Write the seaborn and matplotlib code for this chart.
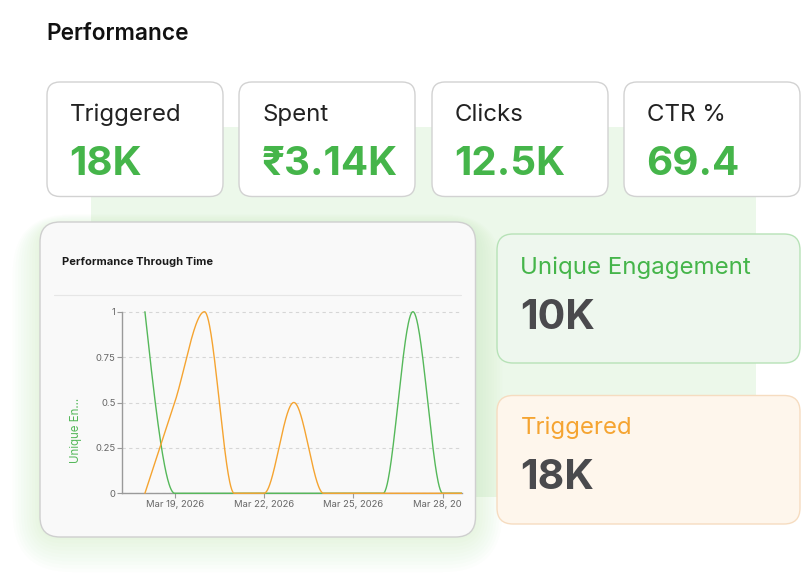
import numpy as np
import pandas as pd
import matplotlib
matplotlib.use('Agg')
import matplotlib.pyplot as plt
import matplotlib.dates as mdates
from matplotlib.patches import FancyBboxPatch, Rectangle
from matplotlib.ticker import FixedLocator
from matplotlib.transforms import Bbox, TransformedBbox
import seaborn as sns

# Chart data (daily values)
dates = pd.date_range('2026-03-18', '2026-03-29', freq='D')
unique_engagement = [1, 0, 0, 0, 0, 0, 0, 0, 0, 1, 0, 0]
triggered = [0, 0.5, 1, 0, 0, 0.5, 0, 0, 0, 0, 0, 0]
tick_dates = pd.to_datetime(['2026-03-19', '2026-03-22', '2026-03-25', '2026-03-28'])
y_ticks = [0, 0.25, 0.5, 0.75, 1]
y_tick_labels = ['0', '0.25', '0.5', '0.75', '1']

# KPI cards
kpi_labels = ['Triggered', 'Spent', 'Clicks', 'CTR %']
kpi_values = ['18K', '₹3.14K', '12.5K', '69.4']
side_labels = ['Unique Engagement', 'Triggered']
side_values = ['10K', '18K']

GREEN = '#45b54a'
LINE_GREEN = '#55b85a'
ORANGE = '#f5a431'
DARK = '#4a4a4d'

sns.set_style('white')
plt.rcParams['font.family'] = ['Inter', 'DejaVu Sans']


def monotone_curve(x, y, n=60):
    """Monotone cubic (d3 curveMonotoneX style) evaluated along each segment."""
    x = np.asarray(x, float)
    y = np.asarray(y, float)
    h = np.diff(x)
    s = np.diff(y) / h
    t = np.zeros_like(y)
    for i in range(1, len(x) - 1):
        p = (s[i - 1] * h[i] + s[i] * h[i - 1]) / (h[i - 1] + h[i])
        t[i] = (np.sign(s[i - 1]) + np.sign(s[i])) * min(abs(s[i - 1]), abs(s[i]), 0.5 * abs(p))
    t[0] = (3 * s[0] - t[1]) / 2
    t[-1] = (3 * s[-1] - t[-2]) / 2
    xs, ys = [], []
    u = np.linspace(0, 1, n)
    for i in range(len(x) - 1):
        dx = h[i] / 3
        p0, p3 = y[i], y[i + 1]
        p1 = y[i] + dx * t[i]
        p2 = y[i + 1] - dx * t[i + 1]
        yy = (1 - u) ** 3 * p0 + 3 * (1 - u) ** 2 * u * p1 + 3 * (1 - u) * u ** 2 * p2 + u ** 3 * p3
        xs.append(x[i] + u * h[i])
        ys.append(yy)
    return np.concatenate(xs), np.concatenate(ys)


def card(ax, x0, y0, x1, y1, face, edge, r=13, lw=1.0, z=2):
    ax.add_patch(FancyBboxPatch((x0, y0), x1 - x0, y1 - y0,
                                boxstyle=f'round,pad=0,rounding_size={r}',
                                facecolor=face, edgecolor=edge, linewidth=lw, zorder=z))


fig = plt.figure(figsize=(8.01, 5.88), dpi=100)
fig.patch.set_facecolor('white')

# Background canvas in pixel coordinates
bg = fig.add_axes([0, 0, 1, 1], zorder=0)
bg.set_xlim(0, 801)
bg.set_ylim(588, 0)
bg.axis('off')

bg.text(46.5, 40, 'Performance', fontsize=16.3, fontweight='semibold', color='#111111', va='baseline')

# light green panel behind the cards
bg.add_patch(Rectangle((91, 127), 665, 370, facecolor='#ecf8ea', edgecolor='none', zorder=1))

# top KPI cards
card_x = [47, 239, 432, 624]
for cx, lab, val in zip(card_x, kpi_labels, kpi_values):
    card(bg, cx, 82, cx + 176, 196.5, 'white', '#d2d2d2', r=13, z=3)
    bg.text(cx + 23, 120.7, lab, fontsize=17.3, color='#222222', va='baseline', zorder=4)
    bg.text(cx + 22.5, 175, val, fontsize=29, fontweight='bold', color=GREEN, va='baseline', zorder=4)

# soft green glow around the chart card
for i in range(10):
    g = 3 + i * 4.0
    bg.add_patch(FancyBboxPatch((40 - g * 0.7, 226 - g * 0.3), 435 + g * 1.4, 311 + g * 1.2,
                                boxstyle=f'round,pad=0,rounding_size={20 + g}',
                                facecolor='#8fe67c', edgecolor='none', alpha=0.018, zorder=2))

# chart card
card(bg, 40, 222, 475.5, 537, '#f9f9f9', '#cfcfcf', r=20, lw=1.0, z=3)
bg.text(62, 265, 'Performance Through Time', fontsize=8, fontweight='bold', color='#1a1a1a',
        va='baseline', zorder=4)
bg.plot([54, 461], [295, 295], color='#e6e6e6', linewidth=0.8, zorder=4)
bg.text(75.7, 430, 'Unique En...', fontsize=8.3, color=LINE_GREEN, rotation=90,
        ha='center', va='center', zorder=4)

# side cards
card(bg, 497, 234, 800, 363, '#eef7ee', '#b7e2b7', r=16, z=3)
bg.text(520.5, 274, side_labels[0], fontsize=17.3, color=GREEN, va='baseline', zorder=4)
bg.text(520, 329, side_values[0], fontsize=29.5, fontweight='bold', color=DARK, va='baseline', zorder=4)

card(bg, 497, 395.5, 800, 524, '#fef6ec', '#f6dcc0', r=16, z=3)
bg.text(520.5, 434.3, side_labels[1], fontsize=17.3, color=ORANGE, va='baseline', zorder=4)
bg.text(520, 489.3, side_values[1], fontsize=29.5, fontweight='bold', color=DARK, va='baseline', zorder=4)

# line chart
left_px, right_px, top_px, bot_px = 122.3, 461.7, 311, 494
ax = fig.add_axes([left_px / 801, (588 - bot_px) / 588,
                   (right_px - left_px) / 801, (bot_px - top_px) / 588], zorder=1)
ax.set_facecolor('none')

xnum = mdates.date2num(dates)
gx, gy = monotone_curve(xnum, unique_engagement)
ox, oy = monotone_curve(xnum, triggered)
sns.lineplot(x=gx, y=gy, ax=ax, color=LINE_GREEN, linewidth=1.0, sort=False, estimator=None, zorder=3)
sns.lineplot(x=ox, y=oy, ax=ax, color=ORANGE, linewidth=1.0, sort=False, estimator=None, zorder=4)

day_px = (442.7 - 174.7) / 9
x0 = mdates.date2num(pd.Timestamp('2026-03-19')) - (174.7 - left_px) / day_px
x1 = mdates.date2num(pd.Timestamp('2026-03-28')) + (right_px - 442.7) / day_px
ax.set_xlim(x0, x1)
ax.set_ylim(-0.004, 1.004)

ax.xaxis.set_major_locator(FixedLocator(mdates.date2num(tick_dates)))
ax.xaxis.set_major_formatter(mdates.DateFormatter('%b %d, %Y'))
ax.set_yticks(y_ticks)
ax.set_yticklabels(y_tick_labels)

for side in ['top', 'right']:
    ax.spines[side].set_visible(False)
for side in ['left', 'bottom']:
    ax.spines[side].set_color('#9a9a9a')
    ax.spines[side].set_linewidth(1.0)
ax.spines['bottom'].set_position(('data', 0))
ax.spines['left'].set_bounds(0, 1)

ax.tick_params(axis='both', which='major', length=3.6, width=0.8, color='#9a9a9a',
               labelcolor='#666666', labelsize=6.8, pad=1.2, direction='out',
               bottom=True, left=True)
ax.yaxis.grid(True, linestyle=(0, (3, 3)), color='#d6d6d6', linewidth=0.8)
ax.xaxis.grid(False)
ax.set_xlabel('')
ax.set_ylabel('')

# clip the last date label at the chart's right edge
clip = TransformedBbox(Bbox.from_extents(0, 0, right_px / 100, 5.88), fig.dpi_scale_trans)
for lbl in ax.get_xticklabels():
    lbl.set_clip_box(clip)
    lbl.set_clip_on(True)

fig.savefig('out.png', dpi=100)
